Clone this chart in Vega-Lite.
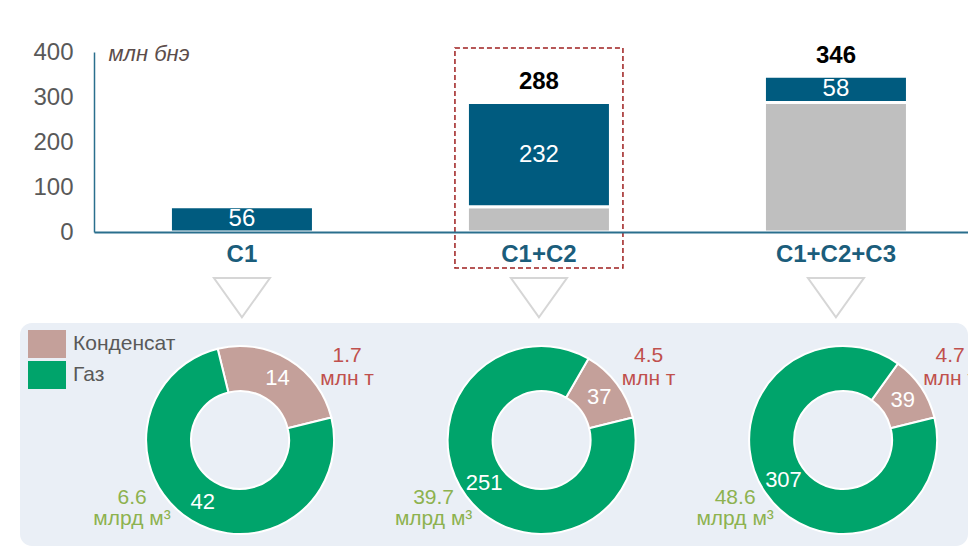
{
  "$schema": "https://vega.github.io/schema/vega-lite/v6.json",
  "background": "white",
  "padding": {"left": 20, "top": 40, "right": 0, "bottom": 0},
  "spacing": 1,
  "config": {"font": "Liberation Sans", "view": {"stroke": null}},
  "datasets": {
    "bars": [
      {"cat": "C1", "part": "increment", "value": 56},
      {"cat": "C1+C2", "part": "base", "value": 56},
      {"cat": "C1+C2", "part": "increment", "value": 232},
      {"cat": "C1+C2+C3", "part": "base", "value": 288},
      {"cat": "C1+C2+C3", "part": "increment", "value": 58}
    ],
    "gas": [
      {"cat": "C1", "part": "Конденсат", "value": 14, "phys": 1.7, "unit": "млн т"},
      {"cat": "C1", "part": "Газ", "value": 42, "phys": 6.6, "unit": "млрд м³"},
      {"cat": "C1+C2", "part": "Конденсат", "value": 37, "phys": 4.5, "unit": "млн т"},
      {"cat": "C1+C2", "part": "Газ", "value": 251, "phys": 39.7, "unit": "млрд м³"},
      {"cat": "C1+C2+C3", "part": "Конденсат", "value": 39, "phys": 4.7, "unit": "млн т"},
      {"cat": "C1+C2+C3", "part": "Газ", "value": 307, "phys": 48.6, "unit": "млрд м³"}
    ]
  },
  "resolve": {"scale": {"x": "independent", "y": "independent", "color": "independent"}, "legend": {"color": "independent"}},
  "vconcat": [
    {
      "width": 948,
      "height": 180,
      "layer": [
        {
          "data": {"name": "bars"},
          "mark": {"type": "bar", "stroke": "white", "strokeWidth": 3},
          "encoding": {
            "x": {
              "field": "cat", "type": "nominal",
              "scale": {"domain": ["C1", "C1+C2", "C1+C2+C3"], "range": [74, 948], "paddingInner": 0.5185, "paddingOuter": 0.2306, "align": 0.558},
              "axis": {"title": null, "labelAngle": 0, "ticks": false, "tickSize": 0, "labelPadding": 10, "labelFontSize": 24, "labelFontWeight": "bold", "labelColor": "#1b5d7b", "domainColor": "#2a6f8d", "domainWidth": 2, "zindex": 1}
            },
            "y": {
              "field": "value", "type": "quantitative", "stack": "zero",
              "scale": {"domain": [0, 400]},
              "axis": {"values": [0, 100, 200, 300, 400], "offset": -74, "grid": false, "ticks": false, "tickSize": 0, "labelPadding": 21, "labelFontSize": 24, "labelColor": "#595959", "domainColor": "#2a6f8d", "domainWidth": 1.5, "zindex": 1,
                "title": "млн бнэ", "titleAngle": 0, "titleX": 14, "titleY": 1, "titleAlign": "left", "titleBaseline": "middle", "titleFontStyle": "italic", "titleFontWeight": "normal", "titleFontSize": 22, "titleColor": "#5c4d4b"}
            },
            "color": {"field": "part", "type": "nominal", "scale": {"domain": ["base", "increment"], "range": ["#bfbfbf", "#005b7f"]}, "legend": null},
            "order": {"field": "part"}
          }
        },
        {
          "data": {"name": "bars"},
          "mark": {"type": "text", "color": "white", "fontSize": 24, "baseline": "middle"},
          "encoding": {
            "x": {"field": "cat", "type": "nominal"},
            "y": {"field": "value", "type": "quantitative", "stack": "zero", "bandPosition": 0.5},
            "detail": {"field": "part"},
            "order": {"field": "part"},
            "text": {"condition": {"test": "datum.part === 'base'", "value": ""}, "field": "value", "type": "quantitative"}
          }
        },
        {
          "data": {"name": "bars"},
          "transform": [
            {"aggregate": [{"op": "sum", "field": "value", "as": "total"}], "groupby": ["cat"]},
            {"filter": "datum.cat !== 'C1'"}
          ],
          "mark": {"type": "text", "fontSize": 24, "fontWeight": "bold", "color": "black", "dy": -20, "baseline": "middle"},
          "encoding": {
            "x": {"field": "cat", "type": "nominal"},
            "y": {"field": "total", "type": "quantitative"},
            "text": {"field": "total", "type": "quantitative"}
          }
        },
        {
          "data": {"name": "bars"},
          "transform": [
            {"filter": "datum.cat === 'C1+C2'"},
            {"aggregate": [{"op": "count", "as": "n"}], "groupby": ["cat"]}
          ],
          "mark": {"type": "bar", "width": 168, "fill": "white", "fillOpacity": 0, "stroke": "#9e1f1f", "strokeWidth": 1.5, "strokeDash": [5, 3], "clip": false},
          "encoding": {
            "x": {"field": "cat", "type": "nominal"},
            "y": {"datum": 409},
            "y2": {"datum": -80}
          }
        },
        {
          "data": {"name": "bars"},
          "transform": [{"aggregate": [{"op": "count", "as": "n"}], "groupby": ["cat"]}],
          "mark": {"type": "point", "shape": "M-1,-0.7L1,-0.7L0,0.7Z", "size": 3136, "filled": true, "fill": "white", "stroke": "#d6d6d6", "strokeWidth": 2, "opacity": 1, "clip": false},
          "encoding": {
            "x": {"field": "cat", "type": "nominal"},
            "y": {"datum": -146}
          }
        }
      ]
    },
    {
      "width": 948,
      "height": 223,
      "view": {"fill": "#eaeff6", "stroke": null, "cornerRadius": 12},
      "data": {"name": "gas"},
      "encoding": {
        "x": {"field": "cat", "type": "nominal", "scale": {"type": "point", "domain": ["C1", "C1+C2", "C1+C2+C3"], "padding": 0.572, "align": 0.638}, "axis": null}
      },
      "layer": [
        {
          "transform": [{"stack": "value", "groupby": ["cat"], "sort": [{"field": "part", "order": "ascending"}], "offset": "normalize", "as": ["t0", "t1"]}],
          "mark": {"type": "arc", "innerRadius": 49, "outerRadius": 94, "stroke": "white", "strokeWidth": 2, "yOffset": 5.5},
          "encoding": {
            "theta": {"field": "t0", "type": "quantitative", "scale": {"domain": [0, 1], "range": [1.33, 7.6132]}},
            "theta2": {"field": "t1"},
            "color": {
              "field": "part", "type": "nominal",
              "scale": {"domain": ["Конденсат", "Газ"], "range": ["#c4a09a", "#00a46b"]},
              "legend": {"orient": "none", "legendX": 13, "legendY": 7, "title": null, "symbolType": "M-1.357,-1H1.357V1H-1.357Z", "symbolSize": 784, "symbolStrokeWidth": 0, "labelFontSize": 21, "labelColor": "#595959", "labelOffset": 12, "rowPadding": 3}
            }
          }
        },
        {
          "mark": {"type": "text", "color": "white", "fontSize": 22, "yOffset": 5.5},
          "encoding": {
            "theta": {"field": "value", "type": "quantitative", "stack": "normalize", "scale": {"domain": [0, 1], "range": [1.33, 7.6132]}},
            "radius": {"field": "cat", "type": "nominal", "scale": {"type": "point", "range": [72, 72]}},
            "order": {"field": "part"},
            "text": {"field": "value", "type": "quantitative"}
          }
        },
        {
          "transform": [{"filter": "datum.part === 'Конденсат'"}],
          "mark": {"type": "text", "color": "#c0504d", "fontSize": 21, "dx": 107, "dy": -79, "clip": true},
          "encoding": {"text": {"field": "phys", "type": "quantitative", "format": ".1f"}}
        },
        {
          "transform": [{"filter": "datum.part === 'Конденсат'"}],
          "mark": {"type": "text", "color": "#c0504d", "fontSize": 21, "dx": 107, "dy": -56, "clip": true},
          "encoding": {"text": {"field": "unit", "type": "nominal"}}
        },
        {
          "transform": [{"filter": "datum.part === 'Газ'"}],
          "mark": {"type": "text", "color": "#8db24f", "fontSize": 21, "dx": -108, "dy": 63, "clip": true},
          "encoding": {"text": {"field": "phys", "type": "quantitative", "format": ".1f"}}
        },
        {
          "transform": [{"filter": "datum.part === 'Газ'"}],
          "mark": {"type": "text", "color": "#8db24f", "fontSize": 21, "dx": -108, "dy": 84, "clip": true},
          "encoding": {"text": {"field": "unit", "type": "nominal"}}
        }
      ]
    }
  ]
}
